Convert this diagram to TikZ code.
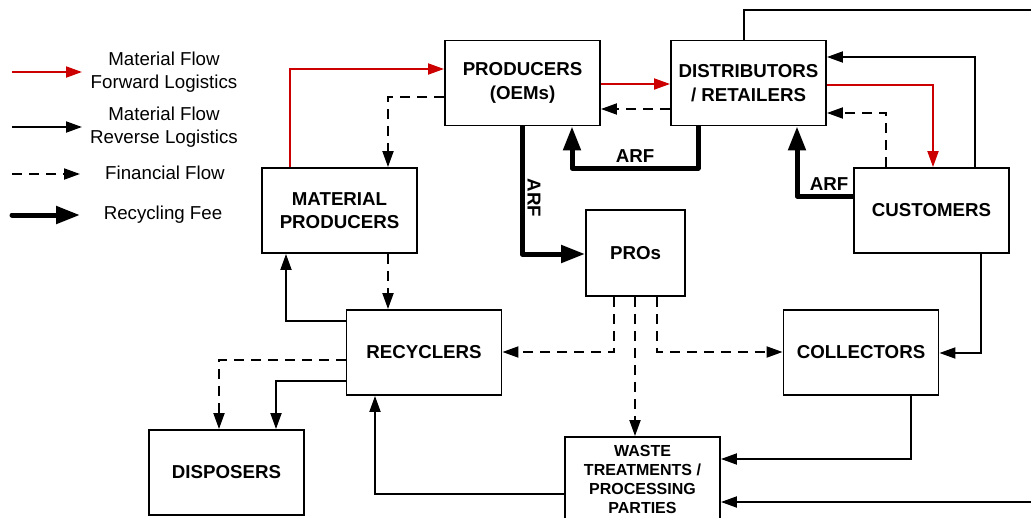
\documentclass[tikz,border=0pt]{standalone}
\usepackage{fontspec}
\setmainfont{Liberation Sans}
\usetikzlibrary{arrows.meta}
\begin{document}
\begin{tikzpicture}[x=1pt,y=-1pt,
  box/.style={draw, line width=1.9pt, minimum width=155pt, minimum height=85pt,
    inner sep=0pt, align=center, font=\fontsize{18.7}{23.5}\selectfont\bfseries},
  lbl/.style={align=center, inner sep=0pt, font=\fontsize{18.7}{22.5}\selectfont},
  arflbl/.style={inner sep=0pt, font=\fontsize{18.7}{22}\selectfont\bfseries},
  fwd/.style={draw=red!80!black, line width=1.9pt, -{Triangle[length=16pt,width=11pt]}},
  rev/.style={draw=black, line width=1.9pt, -{Triangle[length=16pt,width=11pt]}},
  fin/.style={draw=black, line width=1.9pt, dash pattern=on 10pt off 7pt,
    -{Triangle[length=16pt,width=11pt]}},
  fee/.style={draw=black, line width=5pt, line join=round,
    -{Triangle[length=24pt,width=17pt]}}]

% canvas
\fill[white] (0,0) rectangle (1031,517);
\useasboundingbox (0,0) rectangle (1031,517);

% legend
\coordinate (l1a) at (12,72);   \coordinate (l1b) at (82,72);
\coordinate (l2a) at (12,127);  \coordinate (l2b) at (82,127);
\coordinate (l3a) at (12,174);  \coordinate (l3b) at (80,174);
\coordinate (l4a) at (12,215);  \coordinate (l4b) at (80,215);
\draw[fwd] (l1a) -- (l1b);
\draw[rev] (l2a) -- (l2b);
\draw[fin] (l3a) -- (l3b);
\draw[fee, line cap=round] (l4a) -- (l4b);
\node[lbl] (t1) at (164,72) {Material Flow\\Forward Logistics};
\node[lbl] (t2) at (164,127) {Material Flow\\Reverse Logistics};
\node[lbl] (t3) at (165,173) {Financial Flow};
\node[lbl] (t4) at (163,215) {Recycling Fee};

% actors
\node[box] (prod)  at (522.5,83)  {PRODUCERS\\(OEMs)};
\node[box] (dist)  at (748.5,83)  {DISTRIBUTORS\\/ RETAILERS};
\node[box] (matp)  at (339.5,210.5) {MATERIAL\\PRODUCERS};
\node[box] (cust)  at (931.5,210.5) {CUSTOMERS};
\node[box, minimum width=99pt, minimum height=86pt] (pros) at (635.5,253) {PROs};
\node[box] (recy)  at (424,352.5) {RECYCLERS};
\node[box] (coll)  at (861,352.5) {COLLECTORS};
\node[box] (disp)  at (226.5,472.5) {DISPOSERS};
\node[box, font=\fontsize{16}{18.8}\selectfont\bfseries] (waste) at (642.5,479.5)
  {WASTE\\TREATMENTS /\\PROCESSING\\PARTIES};

% forward material flow
\draw[fwd] (matp.north -| 290,0) |- (prod.west |- 0,69);
\draw[fwd] (prod.east |- 0,84) -- (dist.west |- 0,84);
\draw[fwd] (dist.east |- 0,85) -| (cust.north -| 933,0);

% reverse material flow
\draw[rev] (cust.north -| 975,0) |- (dist.east |- 0,57);
\draw[rev] (cust.south -| 981,0) |- (coll.east |- 0,353);
\draw[rev] (coll.south -| 911,0) |- (waste.east |- 0,459);
\draw[rev] (dist.north -| 744,0) |- (1045,10) -- (1045,502) -- (waste.east |- 0,502);
\draw[rev] (waste.west |- 0,494) -| (recy.south -| 375,0);
\draw[rev] (recy.west |- 0,321) -| (matp.south -| 286,0);
\draw[rev] (recy.west |- 0,381) -| (disp.north -| 276,0);

% financial flow
\draw[fin] (dist.west |- 0,109) -- (prod.east |- 0,109);
\draw[fin] (prod.west |- 0,97) -| (matp.north -| 388,0);
\draw[fin] (cust.north -| 886,0) |- (dist.east |- 0,113);
\draw[fin] (matp.south -| 388,0) -- (recy.north -| 388,0);
\draw[fin] (pros.south -| 614,0) |- (recy.east |- 0,352);
\draw[fin] (pros.south -| 657,0) |- (coll.west |- 0,352);
\draw[fin] (pros.south -| 635,0) -- (waste.north -| 635,0);
\draw[fin] (recy.west |- 0,360) -| (disp.north -| 219,0);

% recycling fee (ARF)
\draw[fee] (prod.south -| 522,0) |- (pros.west |- 0,254);
\node[arflbl, rotate=-90] (arf1) at (534,198) {ARF};
\draw[fee] (dist.south -| 698,0) |- (572,168) -- (prod.south -| 572,0);
\node[arflbl] (arf2) at (635,156) {ARF};
\draw[fee] (cust.west |- 0,196) -| (dist.south -| 797,0);
\node[arflbl] (arf3) at (829,184) {ARF};
\end{tikzpicture}
\end{document}
